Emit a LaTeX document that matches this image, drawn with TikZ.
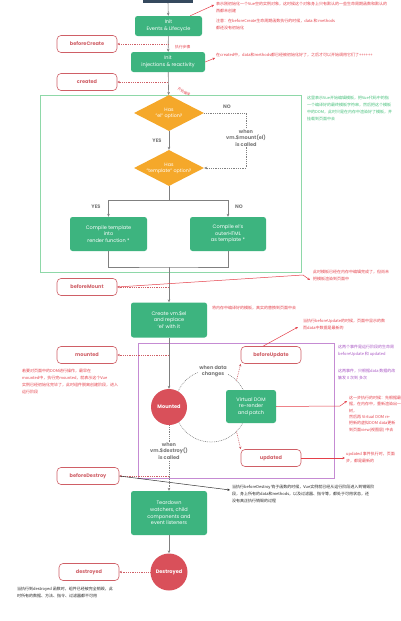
\documentclass[tikz,border=0pt]{standalone}
\usepackage{fontspec}
\setmainfont{Poppins}
\newfontfamily\cjk{Noto Sans CJK SC}
\usetikzlibrary{shapes.geometric,arrows.meta}
\definecolor{vgreen}{HTML}{3DB47F}
\definecolor{vorange}{HTML}{F5A82A}
\definecolor{vred}{HTML}{D9505A}
\definecolor{pillred}{HTML}{CF5F66}
\definecolor{notered}{HTML}{E5404A}
\definecolor{framegreen}{HTML}{8ED8A8}
\definecolor{framepurple}{HTML}{C58BD3}
\definecolor{notepurple}{HTML}{A855C4}
\definecolor{notegreen}{HTML}{45C07A}
\definecolor{darkbox}{HTML}{35495E}
\definecolor{lineg}{HTML}{808080}
\definecolor{labelg}{HTML}{7A7A7A}
\begin{document}
\begin{tikzpicture}[x=1pt,y=-1pt,
  conn/.style={draw=lineg, line width=0.6pt, -{Stealth[length=3pt,width=2.6pt]}},
  plain/.style={draw=lineg, line width=0.6pt},
  dotg/.style={draw=lineg, line width=0.6pt, dash pattern=on 0.8pt off 1pt},
  dotga/.style={dotg, -{Stealth[length=3pt,width=2.6pt]}},
  dotr/.style={draw=pillred, line width=0.6pt, dash pattern=on 0.8pt off 1pt, -{Stealth[length=2.6pt,width=2.4pt]}},
  redarrow/.style={draw=notered, line width=0.5pt, -{Stealth[length=2.6pt,width=2.4pt]}},
  blackarrow/.style={draw=black!80, line width=0.5pt, -{Stealth[length=2.6pt,width=2.4pt]}},
  gbox/.style={fill=vgreen, rounded corners=2.5pt, text=white, font=\fontsize{5}{6.6}\selectfont, align=center, inner sep=0},
  pill/.style={draw=pillred, line width=0.6pt, rounded corners=4pt, fill=white, text=pillred, font=\fontsize{5}{6}\selectfont\bfseries, inner sep=0, minimum width=60pt, minimum height=17pt},
  dia/.style={diamond, fill=vorange, inner sep=0, minimum width=70pt, minimum height=36pt},
  diatext/.style={text=white, font=\fontsize{4.8}{6}\selectfont, align=center, inner sep=0},
  redcirc/.style={circle, fill=vred, text=white, font=\fontsize{5}{6}\selectfont\bfseries, inner sep=0},
  glabel/.style={text=labelg, font=\fontsize{5}{6.2}\selectfont\bfseries, align=center, inner sep=0.8pt},
  gwhite/.style={glabel, fill=white},
  note/.style={anchor=north west, inner sep=0, align=left, text=notered, font=\cjk\fontsize{4}{7}\selectfont},
]
\useasboundingbox (0,0) rectangle (400,621);
\fill[white] (0,0) rectangle (400,621);

% frames
\draw[framegreen, line width=0.7pt] (40,95) rectangle (301,272);
\draw[framepurple, line width=0.7pt] (138,343) rectangle (334,478);

% top box
\node[fill=darkbox, minimum width=50pt, minimum height=3pt, inner sep=0] (newvue) at (168,1.5) {};

% init boxes
\node[gbox, minimum width=67pt, minimum height=20pt] (init1) at (168.5,26) {Init\\Events \& Lifecycle};
\node[gbox, minimum width=74pt, minimum height=20pt] (init2) at (168,62) {Init\\injections \& reactivity};

% pills left
\node[pill] (bc) at (87,44) {beforeCreate};
\node[pill] (cr) at (87,82) {created};
\node[pill] (bm) at (87,287) {beforeMount};
\node[pill] (mo) at (87,355) {mounted};
\node[pill, minimum width=62pt] (bd) at (88,476) {beforeDestroy};
\node[pill] (de) at (89,572) {destroyed};
\node[pill] (bu) at (271,355) {beforeUpdate};
\node[pill] (up) at (271,458) {updated};

% diamonds
\node[dia] (d1) at (169,113) {};
\node[diatext] at (d1) {Has\\"el" option?};
\node[dia] (d2) at (169,168) {};
\node[diatext] at (d2) {Has\\"template" option?};

% compile boxes
\node[gbox, minimum width=77pt, minimum height=34pt] (ct) at (108.5,234) {Compile template\\into\\render function *};
\node[gbox, minimum width=76pt, minimum height=34pt] (co) at (228,234) {Compile el's\\outerHTML\\as template *};

% create el
\node[gbox, minimum width=76pt, minimum height=35pt] (cv) at (169,320) {Create vm.\$el\\and replace\\‘el’ with it};

% loop circle
\coordinate (loopc) at (211,406);
\draw[dotg] (loopc) circle (36pt);
\coordinate (loopur) at (236.5,380.5);
\coordinate (looplr) at (236.5,431.5);

% mounted circle, vdom
\node[redcirc, minimum size=36pt] (mc) at (169,407) {Mounted};
\node[gbox, minimum width=50pt, minimum height=33pt] (vd) at (251,406.5) {Virtual DOM\\re-render\\and patch};
\node[gwhite] (wdc) at (213,371) {when data\\changes};

% teardown, destroyed
\node[gbox, minimum width=76pt, minimum height=44pt] (td) at (169,513) {Teardown\\watchers, child\\components and\\event listeners};
\node[redcirc, minimum size=37pt] (dc) at (169,572) {Destroyed};

% main flow
\draw[conn] (newvue) -- (init1);
\draw[conn] (init1) -- (init2);
\draw[conn] (init2) -- (d1);
\draw[conn] (d1) -- (d2);
\node[glabel] at (157,141) {YES};
\node[glabel] at (227,107) {NO};
\draw[dotga] (d1.east) -- ++(42,0) |- (d2.east);
\node[gwhite] (wmount) at (246,138) {when\\vm.\$mount(el)\\is called};

\coordinate (split) at (169,200);
\coordinate (merge) at (169,267);
\draw[plain] (d2.south) -- (split);
\draw[conn] (split) -| (ct.north);
\draw[conn] (split) -| (co.north);
\node[glabel] at (96,207) {YES};
\node[glabel] at (239,207) {NO};
\draw[plain] (ct.south) |- (merge) -| (co.south);
\draw[conn] (merge) -- (cv.north);
\draw[conn] (cv.south) -- (mc.north);

\draw[dotga] (mc.south) -- (td.north);
\node[gwhite] (wdes) at (169,451) {when\\vm.\$destroy()\\is called};
\draw[conn] (td.south) -- (dc.north);

% hook arrows
\draw[dotr] (init1.south |- bc.east) -- (bc.east);
\draw[dotr] (init2.south |- cr.east) -- (cr.east);
\draw[dotr] (cv.north |- bm.east) -- (bm.east);
\draw[dotr] (cv.south |- mo.east) -- (mo.east);
\draw[dotr] (td.north |- bd.east) -- (bd.east);
\draw[dotr] (dc.west) -- (de.east);
\draw[dotr] (loopur) -- (bu.south west);
\draw[dotr] (looplr) -- (up.north west);

% annotation arrows
\coordinate (n1) at (214,5);
\draw[redarrow] (init1.north east) ++(-12,0) coordinate (i1a) (i1a) -- (n1);
\coordinate (n2) at (215,58);
\draw[redarrow] (init2.east) -- (n2);
\coordinate (n3a) at (303,275);
\coordinate (n3) at (310,280);
\draw[redarrow] (bm.east) -- (n3a) -- (n3);
\coordinate (n4) at (298,327);
\draw[redarrow] ([xshift=-8pt]bu.north) -- (n4);
\coordinate (n5a) at (340,406);
\coordinate (n5) at (347,401);
\draw[redarrow] (vd.east) -- (n5a) -- (n5);
\coordinate (n6) at (345,458);
\draw[redarrow] (up.east) -- (n6);
\coordinate (n7) at (230,490);
\draw[blackarrow] (bd.east) -- (n7);

% notes
\node[note] at (216,1.5) {表示刚初始化一个Vue空的实例对象，这时候这个对象身上只有默认的一些生命周期函数和默认的\\西都未创建};
\node[note] at (216,18.5) {注意：在beforeCreate生命周期函数执行的时候，data 和 methods\\都还没有初始化};
\node[note, font=\cjk\fontsize{3.8}{5}\selectfont] at (175,45) {执行步骤};
\node[note] at (216,52.5) {在created中，data和methods都已经被初始化好了，之后才可以开始调用它们了++++++};
\node[note, anchor=center, rotate=-28, font=\cjk\fontsize{3.4}{5}\selectfont] at (184,92) {开始编译};
\node[note, text=notegreen] at (307,96) {这里表示Vue开始编辑模板，把Vue代码中的指\\一个编译好的最终模板字符串，然后把这个模板\\中的DOM，此时只是在内存中渲染好了模板，并\\挂载到页面中去};
\node[note] at (313,270) {此时模板已经在内存中编辑完成了，但尚未\\把模板渲染到页面中};
\node[note] at (212,306) {将内存中编译好的模板，真实的替换到页面中去};
\node[note] at (303,319) {当执行beforeUpdate的时候，页面中显示的数\\而data中数据是最新的};
\node[note, text=notepurple] at (338,345) {这两个事件是运行阶段的生命周\\beforeUpdate 和 updated};
\node[note, text=notepurple] at (338,369) {这两事件，只根据data 数据的改\\触发 0 次到 多次};
\node[note, font=\cjk\fontsize{4}{6.3}\selectfont] at (349,396) {这一步执行的时候：先根据最\\据，在内存中，重新渲染出一\\树，\\然后再 Virtual DOM re-\\把新的虚拟DOM data更新\\到页面view(视图层) 中去};
\node[note] at (346,452) {updated 事件执行时，页面\\步，都是最新的};
\node[note] at (22,368.5) {若要对页面中的DOM进行操作，最早在\\mounted中，执行完mounted，就表示这个Vue\\实例已经初始化完毕了，此时组件脱离创建阶段，进入\\运行阶段};
\node[note, text=black!85] at (232,485) {当执行beforeDestroy 钩子函数的时候，Vue实例就已经从运行阶段进入到销毁阶\\段，身上所有的data和methods，以及过滤器、指令等，都处于可用状态，还\\没有真正执行销毁的过程};
\node[note, text=black!85] at (17,587) {当执行到destroyed 函数时，组件已经被完全销毁，此\\时所有的数据、方法、指令、过滤器都不可用};
\end{tikzpicture}
\end{document}
